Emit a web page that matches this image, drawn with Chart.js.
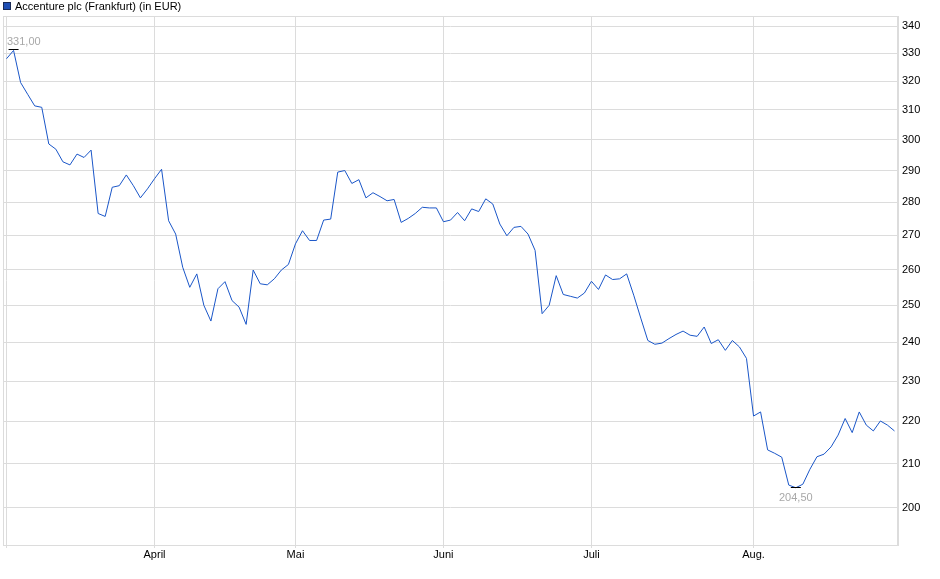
<!DOCTYPE html>
<html>
<head>
<meta charset="utf-8">
<script src="https://cdn.jsdelivr.net/npm/chart.js@4.4.1/dist/chart.umd.min.js"></script>
<style>
  html, body { margin: 0; padding: 0; background: #fff; }
  #wrap { position: relative; width: 940px; height: 579px; }
</style>
</head>
<body>
<div id="wrap"><canvas id="c" width="940" height="579"></canvas></div>
<script>
// ---- data ----
const seriesName = 'Accenture plc (Frankfurt) (in EUR)';
const prices = [
  328.0, 331.0, 319.5, 315.4, 311.4, 310.9, 298.6, 296.9, 292.8, 291.8,
  295.3, 294.2, 296.6, 276.6, 275.7, 284.7, 285.2, 288.6, 285.2, 281.4,
  284.2, 287.4, 290.4, 274.4, 270.4, 260.7, 255.0, 258.8, 250.0, 245.7,
  254.6, 256.6, 251.3, 249.5, 244.8, 259.9, 256.0, 255.7, 257.4, 259.9,
  261.5, 267.5, 271.4, 268.5, 268.5, 274.6, 274.9, 289.5, 290.0, 285.9,
  287.1, 281.4, 283.0, 281.8, 280.5, 280.9, 273.9, 275.1, 276.6, 278.5,
  278.3, 278.3, 274.1, 274.6, 276.9, 274.4, 278.0, 277.2, 281.1, 279.5,
  273.4, 269.9, 272.4, 272.7, 270.4, 265.6, 247.7, 250.0, 258.3, 253.0,
  252.5, 252.0, 253.4, 256.7, 254.4, 258.5, 257.2, 257.4, 258.8, 252.8,
  246.5, 240.5, 239.5, 239.8, 241.0, 242.1, 243.0, 241.9, 241.6, 244.1,
  239.7, 240.7, 237.9, 240.5, 238.8, 235.8, 221.3, 222.3, 213.2, 212.4,
  211.5, 205.1, 204.5, 205.3, 208.7, 211.6, 212.2, 213.9, 216.7, 220.7,
  217.3, 222.3, 219.1, 217.7, 220.1, 219.1, 217.7
];
const monthLabels = ['', 'April', 'Mai', 'Juni', 'Juli', 'Aug.'];
const monthStartIdx = [0, 21, 41, 62, 83, 106];
const yTicks = [200, 210, 220, 230, 240, 250, 260, 270, 280, 290, 300, 310, 320, 330, 340];
const yMin = 192;
const yMax = 343.8;

// ---- styles ----
const FONT = 'Liberation Sans, Arial, Helvetica, sans-serif';
const GRID = '#dcdcdc';
const LINE = '#1a56c8';

const framePlugin = {
  id: 'frame',
  afterDraw(chart) {
    const ctx = chart.ctx;
    const a = chart.chartArea;
    ctx.save();
    // plot frame
    ctx.strokeStyle = GRID;
    ctx.lineWidth = 1;
    ctx.strokeRect(Math.round(a.left) + 0.5, Math.round(a.top) + 0.5,
                   Math.round(a.right - a.left) - 1, Math.round(a.bottom - a.top));
    // legend
    ctx.fillStyle = '#1f4fb4';
    ctx.fillRect(3, 2, 8, 8);
    ctx.strokeStyle = '#1a2a55';
    ctx.strokeRect(3.5, 2.5, 7, 7);
    ctx.fillStyle = '#000';
    ctx.font = '11px ' + FONT;
    ctx.textBaseline = 'middle';
    ctx.textAlign = 'left';
    ctx.fillText(seriesName, 15, 6.5);

    // max / min markers
    const xs = chart.scales.x, ys = chart.scales.y;
    let iMax = 0, iMin = 0;
    prices.forEach((v, i) => { if (v > prices[iMax]) iMax = i; if (v < prices[iMin]) iMin = i; });
    const fmt = v => v.toFixed(2).replace('.', ',');
    ctx.font = '11px ' + FONT;
    const mark = (i, above) => {
      const px = xs.getPixelForValue(i);
      const py = ys.getPixelForValue(prices[i]);
      ctx.strokeStyle = '#000';
      ctx.beginPath();
      ctx.moveTo(px - 5, Math.round(py) - 0.5);
      ctx.lineTo(px + 5, Math.round(py) - 0.5);
      ctx.stroke();
      const txt = fmt(prices[i]);
      const w = ctx.measureText(txt).width;
      let tx = px - w / 2;
      if (tx < a.left + 4) tx = a.left + 4;
      if (tx + w > a.right - 2) tx = a.right - 2 - w;
      ctx.fillStyle = '#a8a8a8';
      ctx.textAlign = 'left';
      if (above) { ctx.textBaseline = 'alphabetic'; ctx.fillText(txt, tx, py - 5); }
      else { ctx.textBaseline = 'top'; ctx.fillText(txt, tx, py + 5); }
    };
    mark(iMax, true);
    mark(iMin, false);
    ctx.restore();
  }
};

new Chart(document.getElementById('c'), {
  type: 'line',
  data: {
    datasets: [{
      label: seriesName,
      data: prices.map((v, i) => ({ x: i, y: v })),
      borderColor: LINE,
      borderWidth: 1,
      pointRadius: 0,
      pointHoverRadius: 0,
      tension: 0,
      fill: false
    }]
  },
  options: {
    responsive: false,
    animation: false,
    devicePixelRatio: 1,
    layout: { padding: { left: 3, top: 16, right: 0, bottom: 0 } },
    plugins: { legend: { display: false }, tooltip: { enabled: false } },
    scales: {
      x: {
        type: 'linear',
        min: -0.5,
        max: prices.length - 0.5,
        afterBuildTicks: s => { s.ticks = monthStartIdx.map(v => ({ value: v })); },
        afterFit: s => { s.height = 34; },
        grid: { color: GRID, drawTicks: true, tickLength: 3, tickColor: GRID },
        border: { display: true, color: GRID },
        ticks: {
          autoSkip: false,
          maxRotation: 0,
          padding: 0,
          color: '#000',
          font: { family: FONT, size: 11 },
          callback: (v) => { const k = monthStartIdx.indexOf(v); return k >= 0 ? monthLabels[k] : ''; }
        }
      },
      y: {
        type: 'logarithmic',
        position: 'right',
        min: yMin,
        max: yMax,
        afterBuildTicks: s => { s.ticks = yTicks.map(v => ({ value: v })); },
        afterFit: s => { s.width = 42; },
        grid: { color: GRID, drawTicks: false },
        border: { display: true, color: GRID },
        ticks: {
          autoSkip: false,
          padding: 4,
          color: '#000',
          font: { family: FONT, size: 11 },
          callback: v => String(v)
        }
      }
    }
  },
  plugins: [framePlugin]
});
</script>
</body>
</html>
